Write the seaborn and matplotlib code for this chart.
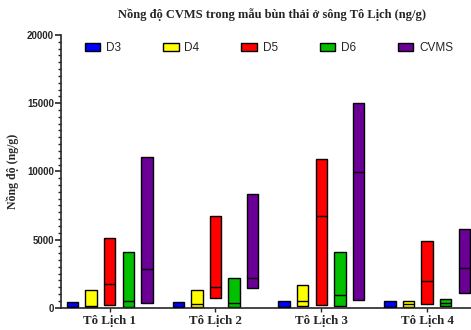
import matplotlib as mpl
mpl.use("Agg")
import matplotlib.pyplot as plt
from matplotlib.patches import Patch
from matplotlib.ticker import MultipleLocator
import pandas as pd
import seaborn as sns

sites = ["Tô Lịch 1", "Tô Lịch 2", "Tô Lịch 3", "Tô Lịch 4"]
compounds = ["D3", "D4", "D5", "D6", "CVMS"]
colors = ["#0000ff", "#ffff00", "#ff0000", "#00c000", "#6a0096"]

# min / median / max per compound, one value per site
d3_min = [30, 30, 30, 30]
d3_med = [80, 80, 80, 80]
d3_max = [440, 400, 510, 510]
d4_min = [70, 30, 120, 30]
d4_med = [100, 270, 510, 270]
d4_max = [1300, 1300, 1640, 510]
d5_min = [200, 740, 220, 250]
d5_med = [1760, 1540, 6730, 1940]
d5_max = [5090, 6730, 10930, 4920]
d6_min = [70, 50, 120, 120]
d6_med = [510, 320, 910, 320]
d6_max = [4090, 2160, 4060, 620]
cvms_min = [320, 1420, 560, 1060]
cvms_med = [2820, 2200, 9980, 2890]
cvms_max = [11080, 8340, 15000, 5750]

rows = []
for name, lo, med, hi in [
    ("D3", d3_min, d3_med, d3_max),
    ("D4", d4_min, d4_med, d4_max),
    ("D5", d5_min, d5_med, d5_max),
    ("D6", d6_min, d6_med, d6_max),
    ("CVMS", cvms_min, cvms_med, cvms_max),
]:
    for s, a, m, b in zip(sites, lo, med, hi):
        rows.append({"site": s, "compound": name, "lo": a, "med": m, "hi": b,
                     "span": b - a})
df = pd.DataFrame(rows)

sns.set_style("ticks")
plt.rcParams["font.family"] = ["Liberation Sans", "DejaVu Sans"]

fig = plt.figure(figsize=(4.71, 3.30), dpi=100)
ax = fig.add_axes([61 / 471, 1 - 307.7 / 330, 1 - 61 / 471, (307.7 - 35) / 330])

sns.barplot(data=df, x="site", y="span", hue="compound", order=sites,
            hue_order=compounds, palette=colors, width=0.88, gap=0.39,
            edgecolor="black", linewidth=1.0, saturation=1, legend=False, ax=ax)

# float bars from min to max and draw the median line
for cont, comp in zip(ax.containers, compounds):
    sub = df[df["compound"] == comp].set_index("site").loc[sites]
    for bar, lo, med in zip(cont, sub["lo"], sub["med"]):
        bar.set_y(lo)
        x0 = bar.get_x()
        ax.plot([x0, x0 + bar.get_width()], [med, med], color="black", lw=1.0,
                solid_capstyle="butt", zorder=5)

ax.set_xlim(-0.46, 3.415)
ax.set_ylim(0, 20000)
ax.yaxis.set_major_locator(MultipleLocator(5000))
ax.yaxis.set_minor_locator(MultipleLocator(500))
ax.tick_params(axis="y", which="major", length=4, width=1.2, labelsize=7, pad=1)
ax.tick_params(axis="y", which="minor", length=2.5, width=1.0)
ax.tick_params(axis="x", length=3, width=1.0, pad=2)
for lab in ax.get_yticklabels():
    lab.set_fontweight("bold")
ax.set_xticks(range(len(sites)))
ax.set_xticklabels(sites, family="Liberation Serif", fontweight="bold", fontsize=9.3)
ax.set_xlabel("")
ax.set_ylabel("Nồng độ (ng/g)", family="Liberation Serif", fontweight="bold",
              fontsize=8.5, labelpad=6)
for sp in ["left", "bottom"]:
    ax.spines[sp].set_linewidth(1.2)
sns.despine(ax=ax)

fig.text(272 / 471, 1 - 15 / 330, "Nồng độ CVMS trong mẫu bùn thải ở sông Tô Lịch (ng/g)",
         ha="center", va="center", family="Liberation Serif", fontweight="bold",
         fontsize=9)

handles = [Patch(facecolor=c, edgecolor="black", linewidth=1.0) for c in colors]
fig.legend(handles, compounds, loc="center left", ncol=5, frameon=False,
           bbox_to_anchor=(85 / 471, 1 - 48 / 330), borderpad=0, borderaxespad=0,
           fontsize=8.5, handlelength=1.3, handleheight=0.6, handletextpad=0.5,
           columnspacing=3.55)

plt.savefig("out.png", dpi=100)
plt.close()
